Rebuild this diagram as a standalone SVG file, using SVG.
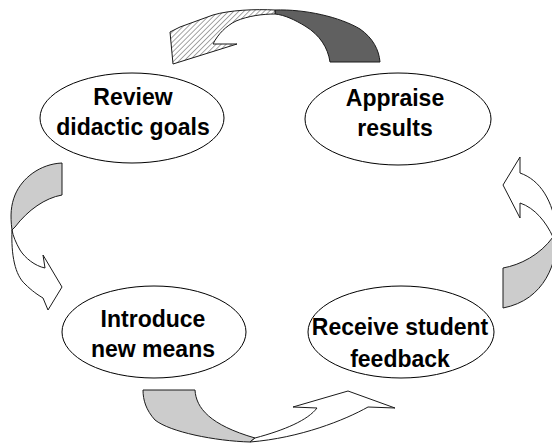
<svg xmlns="http://www.w3.org/2000/svg" width="552" height="443" viewBox="0 0 552 443">
  <defs>
    <pattern id="hatch" patternUnits="userSpaceOnUse" width="3.6" height="3.6" patternTransform="rotate(45)">
      <rect width="3.6" height="3.6" fill="#ffffff"/>
      <line x1="0" y1="0" x2="0" y2="3.6" stroke="#6a6a6a" stroke-width="1.2"/>
    </pattern>
  </defs>
  <style>
    .node ellipse { fill: #ffffff; stroke: #000000; stroke-width: 1; }
    .node text { font-family: "Liberation Sans", Arial, sans-serif; font-weight: bold; font-size: 23px; text-anchor: middle; fill: #000000; }
    .arrow { stroke: #1a1a1a; stroke-width: 1; stroke-linejoin: round; }
    .light { fill: #cccccc; }
    .dark { fill: #606060; }
    .blank { fill: #ffffff; }
    .hatched { fill: url(#hatch); }
  </style>
  <rect width="552" height="443" fill="#ffffff"/>

  <!-- curved arrows of the cycle -->
  <g id="connectors">
    <!-- top: from Appraise results back to Review didactic goals -->
    <g id="arrow-top">
      <path class="arrow dark" d="M275,10 C305,9 340,17 360,29 C373,38 379,50 380,62 L330,62 C328,48 320,35 305,26 C295,20 285,15 275,14 Z"/>
      <path class="arrow hatched" d="M275,10 C255,9 230,10 213,15 L180,27 L170,32 L173,64 L237,44 L213,44 C218,34 226,26 236,21 C248,16 262,14 275,14 Z"/>
    </g>
    <!-- left: Review didactic goals down to Introduce new means -->
    <g id="arrow-left">
      <path class="arrow light" d="M62,163 L62,195 C45,198 28,210 15,227 L12,230 C10,215 11,205 15,195 C22,178 40,164 62,163 Z"/>
      <path class="arrow blank" d="M12,230 C11,255 15,275 25,284 C32,291 38,295 43,298 L48,310 L62,287 L43,255 L45,268 C35,266 25,258 20,250 C16,243 13,236 12,230 Z"/>
    </g>
    <!-- bottom: Introduce new means across to Receive student feedback -->
    <g id="arrow-bottom">
      <path class="arrow light" d="M143,390 L195,390 C196,408 210,425 255,438 L250,442 C215,441 170,432 155,420 C146,410 143,400 143,390 Z"/>
      <path class="arrow blank" d="M255,438 C285,430 308,420 317,408 L293,407 L348,391 L395,408 L368,407 C345,420 300,438 250,442 Z"/>
    </g>
    <!-- right: Receive student feedback up to Appraise results -->
    <g id="arrow-right">
      <path class="arrow light" d="M503,268 C520,265 540,255 553,237 L557,232 C558,262 545,300 503,308 Z"/>
      <path class="arrow blank" d="M520,173 C540,180 553,200 557,232 L553,237 C546,222 535,208 520,203 L520,218 L503,185 L520,157 Z"/>
    </g>
  </g>

  <g id="node-review" class="node">
    <ellipse cx="132" cy="118" rx="92" ry="45"/>
    <text x="133" y="105">Review</text>
    <text x="133" y="135">didactic goals</text>
  </g>

  <g id="node-appraise" class="node">
    <ellipse cx="398" cy="119" rx="93" ry="46"/>
    <text x="395" y="106">Appraise</text>
    <text x="395" y="136">results</text>
  </g>

  <g id="node-introduce" class="node">
    <ellipse cx="154" cy="332" rx="92" ry="46"/>
    <text x="153" y="327">Introduce</text>
    <text x="153" y="357">new means</text>
  </g>

  <g id="node-feedback" class="node">
    <ellipse cx="401" cy="332" rx="93" ry="46"/>
    <text x="400" y="335">Receive student</text>
    <text x="400" y="367">feedback</text>
  </g>
</svg>
